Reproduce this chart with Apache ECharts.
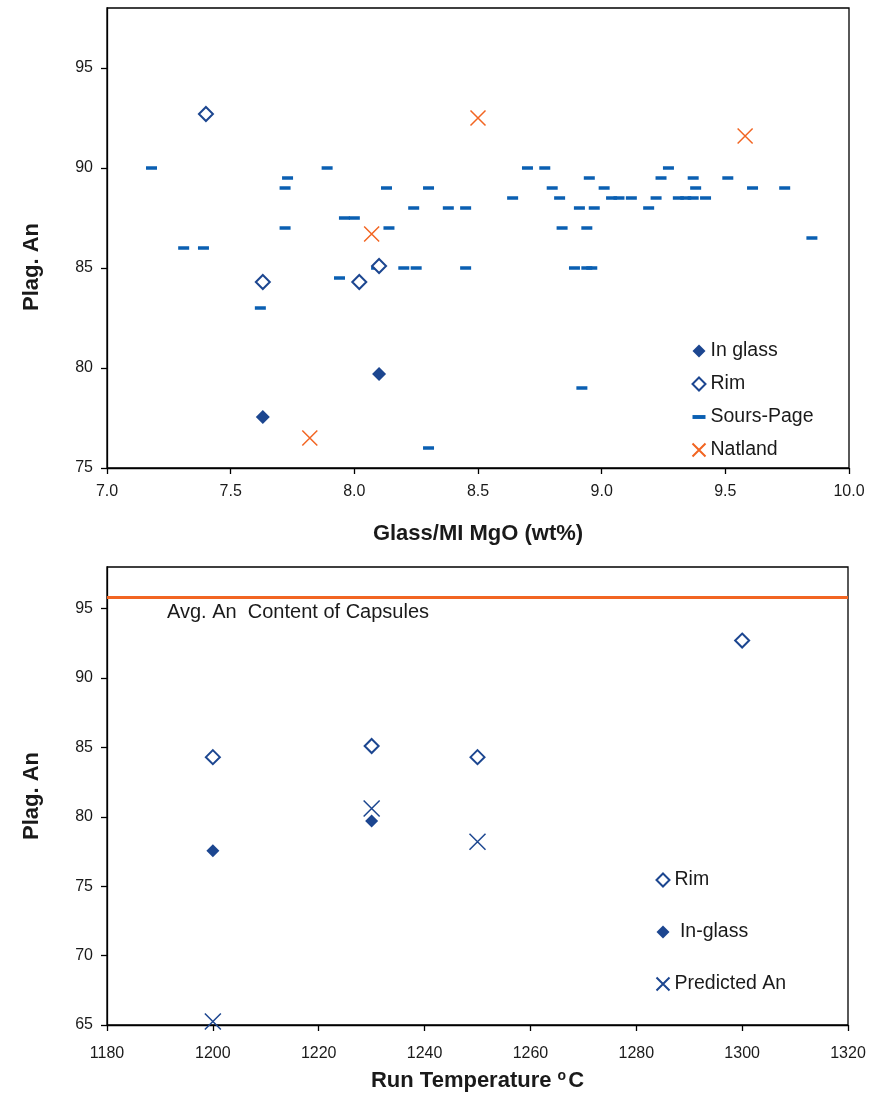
<!DOCTYPE html>
<html>
<head>
<meta charset="utf-8">
<script src="https://cdn.jsdelivr.net/npm/echarts@6/dist/echarts.min.js"></script>
<style>
html,body{margin:0;padding:0;background:#fff;}
#chart{width:871px;height:1093px;}
</style>
</head>
<body>
<div id="chart"></div>
<script>
// ---- Top chart data: Glass/MI MgO (wt%) vs Plag. An ----
const inGlassMgO = [7.63, 8.10];
const inGlassAn  = [77.55, 79.7];
const rimMgO = [7.40, 7.63, 8.02, 8.10];
const rimAn  = [92.7, 84.3, 84.3, 85.1];
const natlandMgO = [7.82, 8.07, 8.50, 9.58];
const natlandAn  = [76.5, 86.7, 92.5, 91.6];
const soursPageMgO = [
  7.18, 7.89, 8.70, 8.77, 9.27,
  7.73, 8.95, 9.24, 9.37, 9.51,
  7.72, 8.13, 8.30, 8.80, 9.01, 9.38, 9.61, 9.74,
  8.64, 8.83, 9.04, 9.07, 9.12, 9.22, 9.31, 9.34, 9.37, 9.42,
  8.24, 8.38, 8.45, 8.91, 8.97, 9.19,
  7.96, 8.00,
  7.72, 8.14, 8.84, 8.94,
  9.85,
  7.31, 7.39,
  8.09, 8.20, 8.25, 8.45, 8.89, 8.94, 8.96,
  7.94,
  7.62,
  8.92,
  8.30
];
const soursPageAn = [
  90, 90, 90, 90, 90,
  89.5, 89.5, 89.5, 89.5, 89.5,
  89, 89, 89, 89, 89, 89, 89, 89,
  88.5, 88.5, 88.5, 88.5, 88.5, 88.5, 88.5, 88.5, 88.5, 88.5,
  88, 88, 88, 88, 88, 88,
  87.5, 87.5,
  87, 87, 87, 87,
  86.5,
  86, 86,
  85, 85, 85, 85, 85, 85, 85,
  84.5,
  83,
  79,
  76
];
const topXTicks = [7.0, 7.5, 8.0, 8.5, 9.0, 9.5, 10.0];
const topYTicks = [75, 80, 85, 90, 95];

// ---- Bottom chart data: Run Temperature vs Plag. An ----
const runTempRim = [1200, 1230, 1250, 1300];
const rimAnB     = [84.3, 85.1, 84.3, 92.7];
const runTempInGlass = [1200, 1230];
const inGlassAnB     = [77.55, 79.7];
const runTempPred = [1200, 1230, 1250];
const predictedAn = [65.25, 80.6, 78.2];
const capsuleAvgAn = 95.8;
const bottomXTicks = [1180, 1200, 1220, 1240, 1260, 1280, 1300, 1320];
const bottomYTicks = [65, 70, 75, 80, 85, 90, 95];

const zip = (xs, ys) => xs.map((x, i) => [x, ys[i]]);

const FONT = 'Liberation Sans, Arial, sans-serif';
const DIAMOND = '#1c4690';
const DASH = '#0a5fb2';
const ORANGE = '#f26522';
const XPATH = 'path://M0,0L10,10M0,10L10,0';

const axisCommon = {
  axisLine: {show: true, onZero: false, lineStyle: {color: '#000', width: 1.3}},
  axisTick: {show: true, inside: false, length: 6, lineStyle: {color: '#000', width: 1.3}},
  splitLine: {show: false},
  axisLabel: {color: '#1a1a1a', fontSize: 16, fontFamily: FONT},
  nameTextStyle: {color: '#1a1a1a', fontSize: 22, fontWeight: 'bold', fontFamily: FONT}
};

const chart = echarts.init(document.getElementById('chart'), null, {renderer: 'canvas'});

chart.setOption({
  animation: false,
  backgroundColor: '#fff',
  textStyle: {fontFamily: FONT},
  grid: [
    {left: 107, top: 8, width: 742, height: 460, show: true, borderColor: '#000', borderWidth: 1.3, backgroundColor: 'transparent'},
    {left: 107, top: 567, width: 741, height: 458, show: true, borderColor: '#000', borderWidth: 1.3, backgroundColor: 'transparent'}
  ],
  xAxis: [
    Object.assign({}, axisCommon, {
      gridIndex: 0, type: 'value', min: 7, max: 10, interval: 0.5,
      name: 'Glass/MI MgO (wt%)', nameLocation: 'middle', nameGap: 55,
      axisLabel: Object.assign({}, axisCommon.axisLabel, {margin: 16,
        formatter: v => topXTicks.includes(Math.round(v * 10) / 10) ? v.toFixed(1) : ''})
    }),
    Object.assign({}, axisCommon, {
      gridIndex: 1, type: 'value', min: 1180, max: 1320, interval: 20,
      name: 'Run Temperature {sup|o}C', nameLocation: 'middle', nameGap: 44,
      nameTextStyle: Object.assign({}, axisCommon.nameTextStyle, {
        rich: {sup: {fontSize: 14, fontWeight: 'bold', fontFamily: FONT, color: '#1a1a1a', verticalAlign: 'top', padding: [0, 2, 10, 0]}}
      }),
      axisLabel: Object.assign({}, axisCommon.axisLabel, {margin: 21,
        formatter: v => bottomXTicks.includes(v) ? String(v) : ''})
    })
  ],
  yAxis: [
    Object.assign({}, axisCommon, {
      gridIndex: 0, type: 'value', min: 75, max: 98, interval: 5,
      name: 'Plag. An', nameLocation: 'middle', nameGap: 64, nameRotate: 90,
      nameTextStyle: Object.assign({}, axisCommon.nameTextStyle, {padding: [0, 58, 0, 0]}),
      axisLabel: Object.assign({}, axisCommon.axisLabel, {margin: 14, showMaxLabel: false,
        formatter: v => topYTicks.includes(v) ? String(v) : ''})
    }),
    Object.assign({}, axisCommon, {
      gridIndex: 1, type: 'value', min: 65, max: 98, interval: 5,
      name: 'Plag. An', nameLocation: 'middle', nameGap: 64, nameRotate: 90,
      axisLabel: Object.assign({}, axisCommon.axisLabel, {margin: 14, showMaxLabel: false,
        formatter: v => bottomYTicks.includes(v) ? String(v) : ''})
    })
  ],
  legend: [
    {
      left: 685, top: 336, orient: 'vertical', itemGap: 13, itemWidth: 13, itemHeight: 13,
      textStyle: {fontSize: 19.5, color: '#1a1a1a', fontFamily: FONT, lineHeight: 20, padding: [0, 0, 0, 0]},
      selectedMode: false,
      data: [
        {name: 'In glass', icon: 'diamond'},
        {name: 'Rim', icon: 'emptyDiamond'},
        {name: 'Sours-Page', icon: 'path://M0,0H10V3H0Z'},
        {name: 'Natland', icon: XPATH}
      ]
    },
    {
      left: 649, top: 865, orient: 'vertical', itemGap: 32, itemWidth: 13, itemHeight: 13,
      textStyle: {fontSize: 19.5, color: '#1a1a1a', fontFamily: FONT, lineHeight: 20, padding: [0, 0, 0, 0]},
      selectedMode: false,
      data: [
        {name: 'Rim', icon: 'emptyDiamond'},
        {name: ' In-glass', icon: 'diamond'},
        {name: 'Predicted An', icon: XPATH}
      ]
    }
  ],
  graphic: [
    {type: 'text', left: 167, top: 602, style: {text: 'Avg. An  Content of Capsules', font: '20px ' + FONT, fill: '#1a1a1a'}}
  ],
  series: [
    {
      name: 'Sours-Page', type: 'scatter', xAxisIndex: 0, yAxisIndex: 0,
      symbol: 'rect', symbolSize: [11, 3.5],
      itemStyle: {color: DASH, opacity: 1},
      data: zip(soursPageMgO, soursPageAn), z: 2
    },
    {
      name: 'In glass', type: 'scatter', xAxisIndex: 0, yAxisIndex: 0,
      symbol: 'diamond', symbolSize: 14,
      itemStyle: {color: DIAMOND, opacity: 1},
      data: zip(inGlassMgO, inGlassAn), z: 3
    },
    {
      name: 'Rim', type: 'scatter', xAxisIndex: 0, yAxisIndex: 0,
      symbol: 'emptyDiamond', symbolSize: 14,
      itemStyle: {color: DIAMOND, borderWidth: 1.6, opacity: 1},
      data: zip(rimMgO, rimAn), z: 3
    },
    {
      name: 'Natland', type: 'scatter', xAxisIndex: 0, yAxisIndex: 0,
      symbol: XPATH, symbolSize: 15,
      itemStyle: {color: 'none', borderColor: ORANGE, borderWidth: 1.5, opacity: 1},
      data: zip(natlandMgO, natlandAn), z: 3
    },
    {
      name: 'Rim', type: 'scatter', xAxisIndex: 1, yAxisIndex: 1,
      symbol: 'emptyDiamond', symbolSize: 14,
      itemStyle: {color: DIAMOND, borderWidth: 1.6, opacity: 1},
      data: zip(runTempRim, rimAnB), z: 3,
      markLine: {
        silent: true, symbol: ['none', 'none'],
        lineStyle: {color: ORANGE, width: 3, type: 'solid', opacity: 1},
        label: {show: false},
        data: [{yAxis: capsuleAvgAn}]
      }
    },
    {
      name: ' In-glass', type: 'scatter', xAxisIndex: 1, yAxisIndex: 1,
      symbol: 'diamond', symbolSize: 13,
      itemStyle: {color: DIAMOND, opacity: 1},
      data: zip(runTempInGlass, inGlassAnB), z: 3
    },
    {
      name: 'Predicted An', type: 'scatter', xAxisIndex: 1, yAxisIndex: 1,
      symbol: XPATH, symbolSize: 16,
      itemStyle: {color: 'none', borderColor: DIAMOND, borderWidth: 1.5, opacity: 1},
      data: zip(runTempPred, predictedAn), z: 3
    }
  ]
});
</script>
</body>
</html>
